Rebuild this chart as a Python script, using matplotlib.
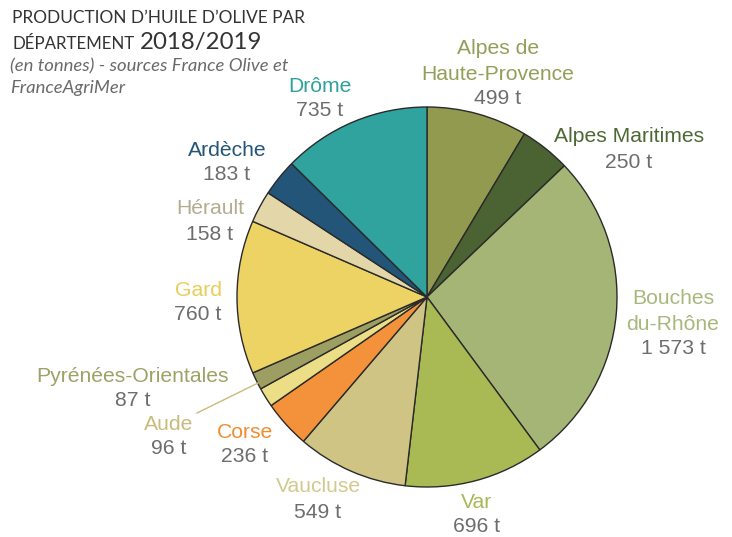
import matplotlib
matplotlib.use("Agg")
import matplotlib.pyplot as plt

# data, clockwise from the top
names = ["Alpes de\nHaute-Provence", "Alpes Maritimes", "Bouches\ndu-Rhône", "Var",
         "Vaucluse", "Corse", "Aude", "Pyrénées-Orientales", "Gard", "Hérault",
         "Ardèche", "Drôme"]
tonnes = [499, 250, 1573, 696, 549, 236, 96, 87, 760, 158, 183, 735]
value_labels = ["499 t", "250 t", "1 573 t", "696 t", "549 t", "236 t", "96 t",
                "87 t", "760 t", "158 t", "183 t", "735 t"]

slice_colors = ["#919a4e", "#4b6332", "#a5b576", "#a9ba55", "#d0c485", "#f3923b",
                "#ebde86", "#9c9e62", "#edd264", "#e3d7a9", "#235578", "#30a39f"]
label_colors = ["#959e58", "#4d6934", "#a8b87b", "#a8b858", "#d3c98f", "#f28c2e",
                "#c9bb7c", "#9ea266", "#e8cd5a", "#b3ad90", "#245577", "#2fa19d"]

# label anchor points in pixels (x, y from top) - name line
label_pos = [(498, 48), (629, 137), (673, 298), (477, 502), (318, 487), (245, 432),
             (169, 424), (133, 376), (198, 290), (210, 209), (227, 150), (320, 86)]

W, H = 732, 537
fig = plt.figure(figsize=(W / 100, H / 100), dpi=100)
ax = fig.add_axes([0, 0, 1, 1])

ax.pie(tonnes, colors=slice_colors, startangle=90, counterclock=False,
       center=(427, H - 297), radius=190, frame=True,
       wedgeprops=dict(edgecolor="#2a2a2a", linewidth=1.0))
ax.set_xlim(0, W)
ax.set_ylim(0, H)
ax.set_aspect("auto")
ax.axis("off")

lab_font = "Liberation Sans"
for name, val, col, (x, y) in zip(names, value_labels, label_colors, label_pos):
    nlines = name.count("\n") + 1
    for i, line in enumerate(name.split("\n")):
        ax.text(x, H - (y + 26 * i), line, ha="center", va="center",
                fontsize=15.2, color=col, family=lab_font)
    ax.text(x, H - (y + 26 * nlines - 1), val, ha="center", va="center",
            fontsize=15.2, color="#6d6d6d", family=lab_font)

# leader line for Aude
ax.plot([197, 258], [H - 413, H - 383], color="#c9bb7c", lw=1)

# title
ax.text(12, H - 18, "PRODUCTION D\u2019HUILE D\u2019OLIVE PAR", ha="left", va="center",
        fontsize=12.4, color="#333333", family="Lato")
ax.text(12, H - 44, "DÉPARTEMENT", ha="left", va="center",
        fontsize=12.2, color="#333333", family="Lato")
ax.text(140, H - 43, "2018/2019", ha="left", va="center",
        fontsize=17.3, color="#333333", family="Lato")
ax.text(10, H - 66, "(en tonnes) - sources France Olive et", ha="left", va="center",
        fontsize=13.3, color="#6a6a6a", family="Lato", style="italic")
ax.text(10, H - 88, "FranceAgriMer", ha="left", va="center",
        fontsize=13.3, color="#6a6a6a", family="Lato", style="italic")

fig.savefig("out.png", dpi=100)
